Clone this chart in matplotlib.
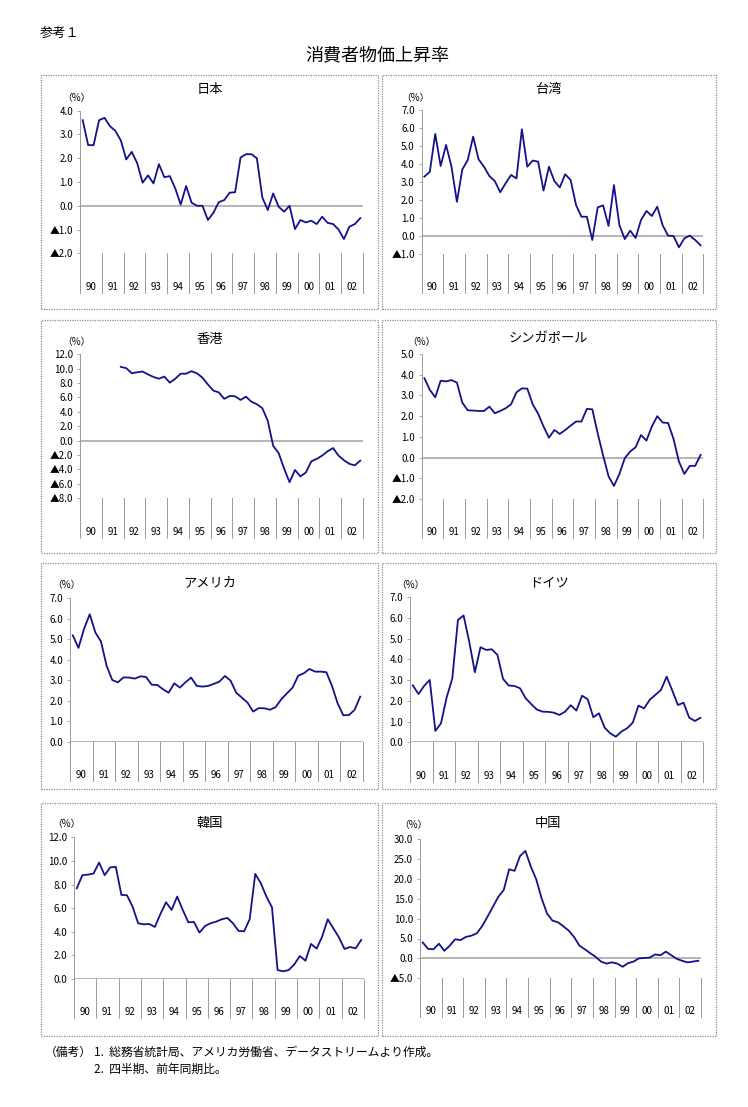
import matplotlib
matplotlib.use('Agg')
import matplotlib.pyplot as plt
import matplotlib.transforms as mtransforms
from matplotlib.patches import Rectangle
import numpy as np

plt.rcParams['font.family'] = ['Noto Sans CJK JP', 'DejaVu Sans']

# 年ラベル（1990〜2002）
years = ['90', '91', '92', '93', '94', '95', '96', '97', '98', '99', '00', '01', '02']

# 四半期、前年同期比（%） 1990Q1〜2002Q4
japan = [3.6, 2.55, 2.55, 3.6, 3.7, 3.35, 3.15, 2.75, 1.95, 2.27, 1.8, 0.97, 1.28,
         0.94, 1.75, 1.2, 1.25, 0.73, 0.05, 0.83, 0.13, 0.0, 0.0, -0.6, -0.3, 0.15,
         0.24, 0.55, 0.57, 2.03, 2.17, 2.17, 2.0, 0.35, -0.18, 0.52, -0.04, -0.25,
         0.0, -0.98, -0.6, -0.7, -0.63, -0.77, -0.46, -0.72, -0.77, -1.0, -1.4,
         -0.88, -0.77, -0.52]
taiwan = [3.3, 3.57, 5.67, 3.89, 5.06, 3.85, 1.9, 3.7, 4.22, 5.52, 4.26, 3.85, 3.33,
          3.05, 2.43, 2.93, 3.39, 3.2, 5.93, 3.85, 4.19, 4.13, 2.52, 3.85, 3.05, 2.7,
          3.43, 3.11, 1.72, 1.07, 1.07, -0.22, 1.59, 1.7, 0.56, 2.83, 0.61, -0.17,
          0.3, -0.11, 0.89, 1.39, 1.11, 1.63, 0.59, 0.02, 0.0, -0.63, -0.13, 0.02,
          -0.22, -0.52]
# 香港は1991Q4から
hongkong_start = 7
hongkong = [10.25, 10.07, 9.36, 9.5, 9.6, 9.2, 8.85, 8.6, 8.9, 8.05, 8.6, 9.3, 9.3,
            9.65, 9.35, 8.75, 7.8, 6.95, 6.7, 5.8, 6.2, 6.15, 5.65, 6.1, 5.4, 5.05,
            4.5, 2.75, -0.75, -1.75, -3.9, -5.8, -4.1, -5.0, -4.45, -2.9, -2.55,
            -2.1, -1.5, -1.05, -2.1, -2.75, -3.25, -3.45, -2.8]
singapore = [3.83, 3.27, 2.91, 3.71, 3.68, 3.74, 3.62, 2.65, 2.28, 2.27, 2.25, 2.25,
             2.46, 2.14, 2.25, 2.38, 2.57, 3.15, 3.34, 3.33, 2.57, 2.12, 1.5, 0.96,
             1.33, 1.14, 1.33, 1.54, 1.74, 1.74, 2.35, 2.33, 1.17, 0.1, -0.9, -1.37,
             -0.8, -0.03, 0.29, 0.5, 1.09, 0.82, 1.5, 2.0, 1.69, 1.67, 0.9, -0.19,
             -0.79, -0.4, -0.4, 0.13]
usa = [5.19, 4.58, 5.52, 6.22, 5.33, 4.89, 3.7, 3.01, 2.9, 3.14, 3.13, 3.08, 3.19,
       3.16, 2.78, 2.77, 2.56, 2.39, 2.85, 2.64, 2.9, 3.13, 2.72, 2.69, 2.72, 2.82,
       2.93, 3.21, 2.98, 2.39, 2.15, 1.91, 1.47, 1.64, 1.63, 1.56, 1.69, 2.07, 2.36,
       2.64, 3.22, 3.34, 3.55, 3.42, 3.42, 3.39, 2.72, 1.87, 1.29, 1.3, 1.55, 2.2]
germany = [2.75, 2.33, 2.72, 3.01, 0.55, 0.92, 2.17, 3.08, 5.91, 6.12, 4.86, 3.38,
           4.59, 4.46, 4.49, 4.22, 3.06, 2.74, 2.72, 2.61, 2.13, 1.84, 1.58, 1.48,
           1.47, 1.43, 1.32, 1.48, 1.79, 1.53, 2.25, 2.08, 1.21, 1.4, 0.71, 0.43,
           0.27, 0.52, 0.68, 0.95, 1.77, 1.64, 2.05, 2.29, 2.53, 3.17, 2.5, 1.8,
           1.91, 1.19, 1.03, 1.18]
korea = [7.68, 8.79, 8.84, 8.93, 9.86, 8.79, 9.46, 9.49, 7.12, 7.09, 6.13, 4.72, 4.63,
         4.66, 4.41, 5.51, 6.5, 5.85, 6.98, 5.85, 4.8, 4.83, 3.93, 4.49, 4.72, 4.86,
         5.06, 5.17, 4.72, 4.07, 4.04, 5.06, 8.9, 8.11, 6.98, 6.07, 0.76, 0.65, 0.76,
         1.24, 1.95, 1.55, 2.97, 2.57, 3.59, 5.06, 4.29, 3.53, 2.54, 2.71, 2.6, 3.31]
china = [4.0, 2.4, 2.3, 3.7, 1.9, 3.2, 4.8, 4.6, 5.4, 5.7, 6.3, 8.1, 10.5, 13.0, 15.5,
         17.2, 22.4, 22.0, 25.7, 27.0, 23.1, 19.9, 15.1, 11.3, 9.5, 9.1, 8.1, 7.0,
         5.4, 3.2, 2.3, 1.3, 0.4, -0.8, -1.3, -1.0, -1.3, -2.1, -1.2, -0.8, 0.0, 0.1,
         0.2, 1.0, 0.8, 1.7, 0.8, -0.1, -0.6, -1.0, -0.8, -0.6]

W, H = 748, 1107
fig = plt.figure(figsize=(W / 100, H / 100), dpi=100)

line_color = '#12128a'
grid_gray = '#9a9a9a'


def fx(x):
    return x / W


def fy(y):
    return 1 - y / H


def tick_label(v):
    if v < 0:
        return '▲%.1f' % abs(v)
    return '%.1f' % v


def draw_panel(title, values, start, yticks, box, plot, title_xy, pct_xy):
    # 枠（点線）
    bx0, by0, bx1, by1 = box
    fig.patches.append(Rectangle((fx(bx0), fy(by1)), fx(bx1 - bx0), (by1 - by0) / H,
                                 transform=fig.transFigure, fill=False,
                                 edgecolor='#8c8c8c', linewidth=0.9, linestyle=(0, (1, 1))))
    x0, x1, ytop, ybot, catbot = plot
    ax = fig.add_axes([fx(x0), fy(ybot), fx(x1 - x0), (ybot - ytop) / H])
    ax.set_facecolor('none')

    xs = np.arange(start, start + len(values)) / 4 + 0.125
    ax.axhline(0, color='#b4b4b4', linewidth=1.4, zorder=1)
    ax.plot(xs, values, color=line_color, linewidth=1.3, zorder=3)

    ax.set_xlim(0, 13)
    ax.set_ylim(yticks[0], yticks[-1])
    ax.set_yticks(yticks)
    ax.set_yticklabels([tick_label(v) for v in yticks])
    ax.set_xticks([])
    ax.tick_params(axis='y', labelsize=7, length=2, width=0.6, color=grid_gray, pad=3)
    for s in ['top', 'right', 'bottom']:
        ax.spines[s].set_visible(False)
    ax.spines['left'].set_color(grid_gray)
    ax.spines['left'].set_linewidth(0.7)
    ax.spines['left'].set_linestyle((0, (1, 1)))

    # 年の区切りとラベル
    trans = mtransforms.blended_transform_factory(ax.transData, ax.transAxes)
    depth = (catbot - ybot) / (ybot - ytop)
    for i in range(len(years) + 1):
        ax.plot([i, i], [0, -depth], transform=trans, color=grid_gray,
                linewidth=0.7, clip_on=False)
    for i, yr in enumerate(years):
        ax.text(i + 0.5, -depth + 6 / (ybot - ytop), yr, transform=trans,
                ha='center', va='center', fontsize=7)

    fig.text(fx(title_xy[0]), fy(title_xy[1]), title, ha='center', va='center', fontsize=9.5)
    fig.text(fx(pct_xy[0]), fy(pct_xy[1]), '（%）', ha='center', va='center', fontsize=7)


draw_panel('日本', japan, 0, [-2, -1, 0, 1, 2, 3, 4],
           (41, 75, 378, 309), (80, 363, 110.7, 253.3, 292.7), (210, 90), (76, 98))
draw_panel('台湾', taiwan, 0, [-1, 0, 1, 2, 3, 4, 5, 6, 7],
           (382, 75, 716, 309), (421.7, 703.3, 110, 254, 293.3), (548, 90), (415, 98))
draw_panel('香港', hongkong, hongkong_start, [-8, -6, -4, -2, 0, 2, 4, 6, 8, 10, 12],
           (41, 320, 378, 553), (80, 363, 354.3, 498, 537.7), (210, 339), (76, 342))
draw_panel('シンガポール', singapore, 0, [-2, -1, 0, 1, 2, 3, 4, 5],
           (382, 320, 716, 553), (421.7, 703.3, 354, 499, 538.3), (548, 339), (421, 342))
draw_panel('アメリカ', usa, 0, [0, 1, 2, 3, 4, 5, 6, 7],
           (41, 563, 378, 789), (70, 363, 598.3, 741.7, 780.7), (210, 583), (66, 585))
draw_panel('ドイツ', germany, 0, [0, 1, 2, 3, 4, 5, 6, 7],
           (382, 563, 716, 789), (410, 703.3, 597.3, 742.3, 781.7), (549, 583), (410, 585))
draw_panel('韓国', korea, 0, [0, 2, 4, 6, 8, 10, 12],
           (41, 803, 378, 1036), (74, 364, 837.3, 979, 1018.3), (210, 823), (66, 824))
draw_panel('中国', china, 0, [-5, 0, 5, 10, 15, 20, 25, 30],
           (382, 803, 716, 1036), (420, 701, 839, 978.3, 1017.3), (548, 823), (413, 825))

# 見出し
fig.text(fx(40), fy(33), '参考１', ha='left', va='center', fontsize=9.5)
fig.text(fx(377), fy(55), '消費者物価上昇率', ha='center', va='center', fontsize=13)

# 備考
fig.text(fx(45), fy(1052), '（備考）', ha='left', va='center', fontsize=8.5)
fig.text(fx(94), fy(1052), '1.  総務省統計局、アメリカ労働省、データストリームより作成。',
         ha='left', va='center', fontsize=8.5)
fig.text(fx(94), fy(1069), '2.  四半期、前年同期比。', ha='left', va='center', fontsize=8.5)

fig.savefig('out.png', dpi=100)
